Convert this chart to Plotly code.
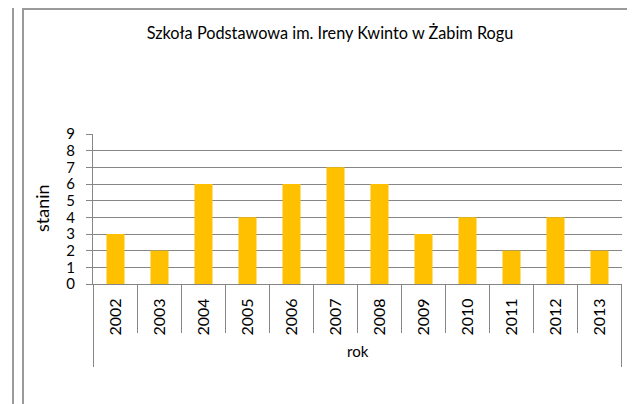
import plotly.graph_objects as go

years = ["2002", "2003", "2004", "2005", "2006", "2007",
         "2008", "2009", "2010", "2011", "2012", "2013"]
stanin = [3, 2, 6, 4, 6, 7, 6, 3, 4, 2, 4, 2]
title_text = "Szkoła Podstawowa im. Ireny Kwinto w Żabim Rogu"
x_group = "rok"
y_label = "stanin"

BAR_COLOR = "#FFC000"
GRID = "#868686"
FONT = "Lato"

# the page body adds an 8px margin, so the figure is laid out 8px smaller
OFF = 8
W, H = 635 - OFF, 404 - OFF
# plot area in screen pixels: x 93..622, y 134..284
L, R, T, B = 93 - OFF, 635 - 622, 134 - OFF, 404 - 284
pw = W - L - R
ph = H - T - B


def px_x(p):
    return (p - OFF - L) / pw


def px_y(p):
    return (H - B - (p - OFF)) / ph


fig = go.Figure(
    go.Bar(x=years, y=stanin, marker=dict(color=BAR_COLOR, line=dict(width=0)))
)

shapes = []
# category separators under the axis
n = len(years)
for i in range(n + 1):
    outer = i == 0 or i == n
    shapes.append(dict(
        type="line", xref="x", yref="paper",
        x0=i - 0.5, x1=i - 0.5, y0=0, y1=px_y(367 if outer else 333),
        line=dict(color=GRID, width=1),
    ))
# page frame (top edge sits as high as the page margin allows)
frame = dict(color="#9a9a9a", width=2)
top = 9
shapes.append(dict(type="line", xref="paper", yref="paper",
                   x0=px_x(13), x1=px_x(13), y0=px_y(0), y1=px_y(410), line=frame))
shapes.append(dict(type="line", xref="paper", yref="paper",
                   x0=px_x(23), x1=px_x(23), y0=px_y(top), y1=px_y(410), line=frame))
shapes.append(dict(type="line", xref="paper", yref="paper",
                   x0=px_x(22), x1=px_x(640), y0=px_y(top), y1=px_y(top), line=frame))

fig.update_layout(
    width=W, height=H,
    margin=dict(l=L, r=R, t=T, b=B),
    paper_bgcolor="white", plot_bgcolor="white",
    font=dict(family=FONT, color="black"),
    bargap=0.59,
    showlegend=False,
    shapes=shapes,
    title=dict(text=title_text, font=dict(size=16.3, color="black"),
               x=(330 - OFF) / W, xref="container", xanchor="center",
               y=1 - (33 - OFF) / H, yref="container", yanchor="middle"),
    annotations=[
        dict(text=y_label, xref="paper", yref="paper", x=px_x(42), y=px_y(208),
             textangle=-90, showarrow=False, font=dict(size=18),
             xanchor="center", yanchor="middle"),
        dict(text=x_group, xref="paper", yref="paper", x=0.5, y=px_y(351),
             showarrow=False, font=dict(size=15),
             xanchor="center", yanchor="middle"),
    ],
)

fig.update_xaxes(
    type="category", tickangle=-90, ticks="", showgrid=False,
    showline=True, linecolor=GRID, linewidth=1,
    tickfont=dict(size=16), ticklabelstandoff=7, automargin=False,
)
fig.update_yaxes(
    range=[0, 9], dtick=1, showgrid=True, gridcolor=GRID, gridwidth=1,
    showline=True, linecolor=GRID, linewidth=1,
    ticks="outside", ticklen=6, tickcolor=GRID,
    tickfont=dict(size=15), ticklabelstandoff=8,
    zeroline=False, automargin=False,
)

fig.write_html("out.html")
